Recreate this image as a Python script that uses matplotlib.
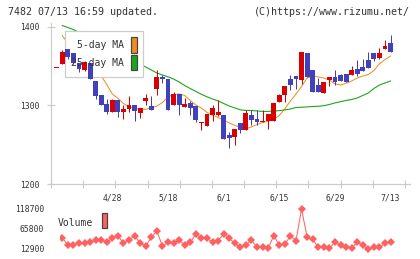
import numpy as np
import matplotlib
matplotlib.use("Agg")
import matplotlib.pyplot as plt
from matplotlib.patches import Rectangle

W, H, DPI = 420, 259, 100

# daily candles (index 0 = first day shown)
opens = [1348, 1352, 1372, 1367, 1354, 1345, 1354, 1331, 1313, 1302,
         1291, 1307, 1291, 1296, 1300, 1290, 1306, 1299.5, 1321, 1336,
         1334, 1301, 1315, 1298, 1303, 1299.5, 1277, 1274, 1288, 1287.5,
         1287.5, 1262, 1260, 1277, 1269, 1287.5, 1283, 1278.5, 1280, 1280,
         1304, 1313.5, 1334, 1337, 1332.5, 1366.5, 1345, 1326, 1316, 1332.3,
         1336, 1338.5, 1340, 1338.5, 1346, 1349, 1357.5, 1366.5, 1360, 1371.5,
         1379]
closes = [1348, 1368.5, 1361, 1353.5, 1346, 1355.5, 1333, 1312, 1300.5, 1292,
          1307, 1291, 1295.5, 1300, 1292.5, 1296.5, 1309.5, 1293.5, 1336, 1334,
          1294.5, 1315, 1301, 1302, 1296.5, 1282, 1279, 1289, 1296.5, 1291.5,
          1257.5, 1258.5, 1270, 1269, 1290, 1282, 1279, 1280.5, 1289, 1303,
          1313.5, 1324.5, 1325.5, 1334, 1368, 1336, 1317.5, 1316.5, 1330, 1336,
          1329.5, 1331, 1329.5, 1345, 1340, 1343.5, 1348, 1359, 1366.5, 1375.5,
          1368]
highs = [1348, 1370, 1372, 1367, 1354, 1356, 1354, 1331, 1313, 1308,
         1307.5, 1307, 1301, 1311.5, 1300, 1297, 1315, 1312, 1345, 1339,
         1334, 1317, 1315, 1309, 1306, 1299.5, 1279, 1289, 1300, 1306.5,
         1287.5, 1266, 1270, 1277, 1294.5, 1294.5, 1294.5, 1294.5, 1289, 1303,
         1314, 1324.5, 1339, 1337, 1368, 1366.5, 1345, 1335, 1330, 1336,
         1345, 1340, 1340, 1350, 1357.5, 1359, 1368, 1366.5, 1373, 1383,
         1389]
lows = [1348, 1352, 1359, 1352, 1342, 1344, 1333, 1308, 1300.5, 1289,
        1291, 1285, 1283, 1292, 1280.5, 1284, 1300, 1293.5, 1313.5, 1328.5,
        1294.5, 1301, 1288, 1298, 1288, 1278.5, 1269, 1274, 1280.5, 1286,
        1257.5, 1246, 1250, 1265, 1269, 1275.5, 1275.5, 1278.5, 1270.5, 1280,
        1304, 1304, 1320, 1321, 1327, 1336, 1317.5, 1316.5, 1316, 1324,
        1326, 1331, 1329.5, 1338.5, 1337.5, 1343.5, 1348, 1357, 1359, 1371.5,
        1368]

ma5 = [np.nan, 1388.8, 1379, 1370, 1363, 1355, 1347.5, 1341, 1337.4, 1326.4,
       1314.4, 1308.9, 1302.4, 1298.2, 1296, 1295, 1295, 1296.8, 1299.2, 1303.6,
       1310.7, 1313.9, 1314.5, 1312.6, 1306.2, 1300.5, 1296.7, 1291, 1287.8, 1284.6,
       1281.5, 1277.6, 1274.5, 1272.2, 1270.3, 1272.6, 1275.7, 1278.3, 1279.8, 1282.3,
       1287.2, 1295.7, 1305.6, 1314.5, 1324, 1334.8, 1337.4, 1336.1, 1334.8, 1332.3,
       1327.2, 1325.9, 1328.1, 1331, 1334.8, 1337.4, 1339.3, 1344.3, 1352.9, 1358.3,
       1362.8]
ma25 = [np.nan, 1401.5, 1399, 1396.4, 1393, 1390, 1387, 1383, 1379, 1375,
        1371, 1367, 1363, 1359, 1355, 1352, 1348.8, 1345, 1341.2, 1338.6,
        1336.3, 1333.5, 1329.7, 1325.3, 1321.4, 1317.7, 1314.1, 1310.9, 1308.1, 1305.6,
        1302.4, 1299.2, 1296.7, 1294.4, 1293.5, 1293.5, 1292.9, 1292.3, 1292.3, 1292.9,
        1293.3, 1294.2, 1295.4, 1297.3, 1297.6, 1298, 1298.6, 1298.9, 1299.6, 1301.1,
        1303.1, 1304.7, 1306.2, 1307.5, 1309.4, 1312.6, 1315.8, 1321.5, 1325.9, 1328.5,
        1331]
volume = [42800, 42800, 23500, 23500, 28000, 28000, 32200, 36700, 36700, 30600,
          41200, 48100, 28000, 36700, 48100, 28000, 20800, 43800, 60500, 20800,
          30600, 28000, 36700, 23500, 30600, 51800, 41200, 41200, 30600, 34900,
          52600, 41200, 28000, 17400, 23500, 36700, 17400, 19000, 14800, 48100,
          23500, 26100, 47300, 34900, 118700, 43800, 38600, 17400, 17400, 14800,
          30600, 23500, 19000, 14800, 30600, 23500, 12900, 17400, 17400, 28000,
          30600]

date_labels = ["4/28", "5/18", "6/1", "6/15", "6/29", "7/13"]
date_idx = [10, 20, 30, 40, 50, 60]
price_ticks = [1200, 1300, 1400]
vol_ticks = [12900, 65800, 118700]

RED = "#d80000"
BLUE = "#4141bd"
ORANGE = "#f08c1e"
GREEN = "#1aa61a"
VOLC = "#ff6060"
GRID = "#cccccc"
TXT = "#333333"
MONO = "DejaVu Sans Mono"

# pixel helpers (figure pixel -> figure fraction)
def fx(px):
    return px / W

def fy(py):
    return 1 - py / H

x0, step = 56.7, 5.565   # pixel of first candle, pixels per day
PX = 72.0 / DPI           # one pixel in points

fig = plt.figure(figsize=(W / DPI, H / DPI), dpi=DPI)
fig.patch.set_facecolor("white")

# ---- price panel ----
ax = fig.add_axes([fx(51), fy(184), fx(410) - fx(51), fy(22.8) - fy(184)])
ax.set_xlim((51 - x0) / step, (410 - x0) / step)
ax.set_ylim(1200, 1405)
for s in ["top", "right"]:
    ax.spines[s].set_visible(False)
for s in ["left", "bottom"]:
    ax.spines[s].set_color(GRID)
    ax.spines[s].set_linewidth(1.2 * PX)

x = np.arange(len(opens))
o = np.array(opens); c = np.array(closes)
up = c >= o
cols = np.where(up, RED, BLUE)
bottoms = np.minimum(o, c)
heights = np.maximum(np.abs(c - o), 1.3)
ax.vlines(x, lows, highs, colors=cols, linewidth=1.0 * PX, zorder=4)
ax.bar(x, heights, bottom=bottoms, width=0.88, color=cols, linewidth=0, zorder=4)

ax.plot(x, ma5, color=ORANGE, lw=1.0 * PX, zorder=2)
ax.plot(x, ma25, color=GREEN, lw=1.1 * PX, zorder=2)

# legend box drawn under the candles
box = Rectangle((fx(65), fy(77)), fx(143) - fx(65), fy(30.5) - fy(77),
                transform=fig.transFigure, facecolor="white", edgecolor=GRID,
                lw=1.2 * PX, zorder=3, clip_on=False)
ax.add_patch(box)
for label, col, ytxt, ytop, ybot in [("5-day MA", ORANGE, 45.5, 37.3, 53),
                                     ("25-day MA", GREEN, 62.7, 54.7, 69.7)]:
    ax.text(fx(124), fy(ytxt), label, transform=fig.transFigure, ha="right",
            va="center", fontsize=7, family=MONO, color=TXT, zorder=5)
    sw = Rectangle((fx(131.3), fy(ybot)), fx(137.3) - fx(131.3), fy(ytop) - fy(ybot),
                   transform=fig.transFigure, facecolor=col, edgecolor="#444444",
                   lw=1.2 * PX, zorder=5, clip_on=False)
    ax.add_patch(sw)

ax.set_yticks(price_ticks, [str(v) for v in price_ticks])
ax.tick_params(axis="y", direction="inout", length=8 * PX, width=1.2 * PX,
               color=GRID, labelsize=5.8, labelcolor=TXT, pad=7.7 * PX)
ax.set_xticks(date_idx, date_labels)
ax.tick_params(axis="x", which="major", length=0, labelsize=5.8,
               labelcolor=TXT, pad=9.5 * PX)
ax.set_xticks(np.linspace((51 - x0) / step, (405 - x0) / step, 12), minor=True)
ax.tick_params(axis="x", which="minor", direction="inout", length=8.6 * PX,
               width=1.2 * PX, color=GRID)
for t in ax.get_xticklabels() + ax.get_yticklabels():
    t.set_family(MONO)

# ---- volume panel ----
vpp = 105800 / 40.0
vax = fig.add_axes([fx(59.5), fy(255), fx(410) - fx(59.5), fy(203) - fy(255)])
vax.set_xlim((59.5 - x0) / step, (410 - x0) / step)
vax.set_ylim(12900 - 6 * vpp, 118700 + 6 * vpp)
vax.patch.set_alpha(0)
for s in vax.spines.values():
    s.set_visible(False)
vax.plot(x, volume, color=VOLC, lw=1.0 * PX, marker="D", markersize=4.2,
         markeredgewidth=0, markerfacecolor=VOLC)
vax.set_xticks([])
vax.set_yticks(vol_ticks, [str(v) for v in vol_ticks])
vax.tick_params(axis="y", length=0, labelsize=5.8, labelcolor=TXT, pad=15.2 * PX)
for t in vax.get_yticklabels():
    t.set_family(MONO)

fig.text(fx(58), fy(222.5), "Volume", ha="left", va="center", fontsize=7,
         family=MONO, color=TXT)
fig.add_artist(Rectangle((fx(101.7), fy(228.3)), fx(107.3) - fx(101.7),
                         fy(213.3) - fy(228.3), transform=fig.transFigure,
                         facecolor=VOLC, edgecolor="#444444", lw=1.2 * PX))

# ---- header ----
fig.text(fx(8), fy(11.7), "7482 07/13 16:59 updated.", ha="left", va="center",
         fontsize=7.2, family=MONO, color=TXT)
fig.text(fx(410), fy(11.7), "(C)https://www.rizumu.net/", ha="right", va="center",
         fontsize=7.2, family=MONO, color=TXT)

fig.savefig("out.png", dpi=DPI)
